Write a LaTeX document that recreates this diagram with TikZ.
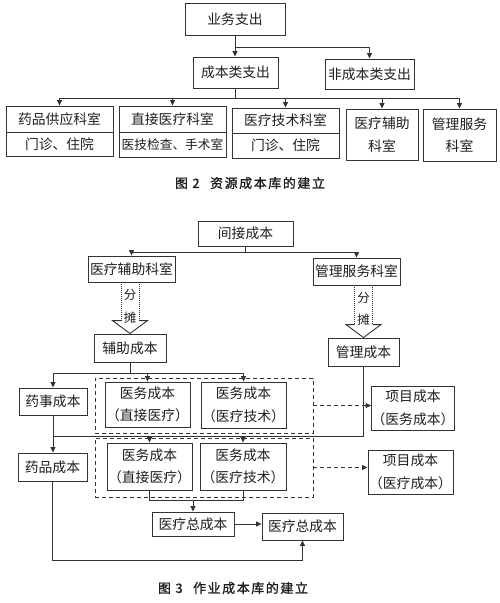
\documentclass[tikz,border=0pt]{standalone}
\usepackage{fontspec}
\setmainfont{Noto Sans CJK SC}
\newfontfamily\capfont[FakeBold=1.2,LetterSpace=12]{Noto Sans CJK SC}
\usetikzlibrary{arrows.meta,calc}
\definecolor{lc}{gray}{0.2}
\definecolor{tc}{gray}{0.12}
\begin{document}
\begin{tikzpicture}[x=1pt,y=-1pt,
  box/.style={draw=lc,line width=0.9pt,inner sep=0pt,align=center,text=tc,font=\fontsize{13.8}{22.5}\selectfont},
  ln/.style={draw=lc,line width=0.9pt},
  arr/.style={draw=lc,line width=0.9pt,-{Triangle[length=5.5pt,width=5pt]}},
  dbox/.style={draw=lc,line width=0.9pt,dash pattern=on 4pt off 3pt,inner sep=0pt},
  darr/.style={draw=lc,line width=0.9pt,dash pattern=on 4pt off 3pt,-{Triangle[length=5.5pt,width=5pt]}},
  shaft/.style={draw=lc,line width=1pt,densely dotted},
  small/.style={text=tc,font=\fontsize{12.5}{14}\selectfont,inner sep=0pt},
  captxt/.style={text=tc,font=\capfont\fontsize{13}{16}\selectfont}]
\fill[white] (0,0) rectangle (500,603);
\useasboundingbox (0,0) rectangle (500,603);

% ---------- Figure 2 ----------
\node[box,minimum width=100pt,minimum height=32pt] (ywzc) at (235,19) {业务支出};
\node[box,minimum width=85pt,minimum height=31pt] (cblzc) at (235.5,72.5) {成本类支出};
\node[box,minimum width=89pt,minimum height=30pt] (fcbl) at (369.5,74) {非成本类支出};

\node[box,minimum width=107pt,minimum height=26pt] (d1t) at (59.5,119) {药品供应科室};
\node[box,minimum width=107pt,minimum height=24pt] (d1b) at (59.5,144) {门诊、住院};
\node[box,minimum width=107pt,minimum height=26pt] (d2t) at (172.5,119) {直接医疗科室};
\node[box,minimum width=107pt,minimum height=25pt,font=\fontsize{12.7}{15}\selectfont] (d2b) at (172.5,144.5) {医技检查、手术室};
\node[box,minimum width=107pt,minimum height=25pt] (d3t) at (285.5,120.5) {医疗技术科室};
\node[box,minimum width=107pt,minimum height=25pt] (d3b) at (285.5,145.5) {门诊、住院};
\node[box,minimum width=72pt,minimum height=51pt] (d4) at (382,134.5) {医疗辅助\\科室};
\node[box,minimum width=73pt,minimum height=52pt] (d5) at (459.5,135) {管理服务\\科室};

\coordinate (h1) at (0,47);
\coordinate (h2) at (0,98);
\draw[arr] (ywzc.south) -- (ywzc.south |- cblzc.north);
\draw[arr] (ywzc.south |- h1) -| (fcbl.north);
\draw[ln] (cblzc.south) -- (cblzc.south |- h2);
\draw[ln] (d1t.north |- h2) -- (d5.north |- h2);
\foreach \n in {d1t,d2t,d3t,d4,d5} \draw[arr] (\n.north |- h2) -- (\n.north);

\node[captxt] (cap2) at (250,183) {图 2\hspace{0.8em}资源成本库的建立};

% ---------- Figure 3 ----------
\node[box,minimum width=95pt,minimum height=25pt] (jjcb) at (245.5,233.5) {间接成本};
\node[box,minimum width=87pt,minimum height=26pt] (ylfz) at (131.5,269) {医疗辅助科室};
\node[box,minimum width=87pt,minimum height=27pt] (glfw) at (356.5,271.5) {管理服务科室};
\node[box,minimum width=72pt,minimum height=28pt] (fzcb) at (130,348) {辅助成本};
\node[box,minimum width=71pt,minimum height=28pt] (glcb) at (363.5,352) {管理成本};

\node[dbox,minimum width=218pt,minimum height=55pt] (db1) at (204,405.5) {};
\node[dbox,minimum width=218pt,minimum height=59pt] (db2) at (204,467.5) {};

\node[box,minimum width=68pt,minimum height=27pt] (yscb) at (53,401.5) {药事成本};
\node[box,minimum width=85pt,minimum height=45pt] (yw1) at (147.5,404.5) {医务成本\\（直接医疗）};
\node[box,minimum width=85pt,minimum height=46pt] (yw2) at (243.5,405) {医务成本\\（医疗技术）};
\node[box,minimum width=82pt,minimum height=44pt] (xm1) at (413,408) {项目成本\\（医务成本）};
\node[box,minimum width=69pt,minimum height=28pt] (ypcb) at (52.5,467) {药品成本};
\node[box,minimum width=85pt,minimum height=47pt] (yw3) at (149.5,466.5) {医务成本\\（直接医疗）};
\node[box,minimum width=86pt,minimum height=47pt] (yw4) at (243,466.5) {医务成本\\（医疗技术）};
\node[box,minimum width=85pt,minimum height=44pt] (xm2) at (410.5,472) {项目成本\\（医疗成本）};
\node[box,minimum width=82pt,minimum height=24pt] (zc1) at (193,524) {医疗总成本};
\node[box,minimum width=81pt,minimum height=27pt] (zc2) at (302.5,526.5) {医疗总成本};

% top split
\coordinate (k1) at (0,252);
\draw[ln] (jjcb.south) -- (jjcb.south |- k1);
\draw[ln] (ylfz.north |- k1) -- (glfw.north |- k1);
\draw[arr] (ylfz.north |- k1) -- (ylfz.north);
\draw[arr] (glfw.north |- k1) -- (glfw.north);

% hollow allocation arrows
\coordinate (t1) at (fzcb.north |- ylfz.south);
\draw[shaft] ($(t1)+(-9,0)$) -- ($(fzcb.north)+(-9,-13)$);
\draw[shaft] ($(t1)+(9,0)$) -- ($(fzcb.north)+(9,-13)$);
\draw[ln,line join=miter] ($(fzcb.north)+(-9,-13)$) -- ($(fzcb.north)+(-17.5,-13)$) -- (fzcb.north) -- ($(fzcb.north)+(17.5,-13)$) -- ($(fzcb.north)+(9,-13)$);
\node[small] (fen1) at ($(t1)+(0,12)$) {分};
\node[small] (tan1) at ($(t1)+(0,35)$) {摊};

\coordinate (t2) at (glcb.north |- glfw.south);
\draw[shaft] ($(t2)+(-9,0)$) -- ($(glcb.north)+(-9,-13)$);
\draw[shaft] ($(t2)+(9,0)$) -- ($(glcb.north)+(9,-13)$);
\draw[ln,line join=miter] ($(glcb.north)+(-9,-13)$) -- ($(glcb.north)+(-17.5,-13)$) -- (glcb.north) -- ($(glcb.north)+(17.5,-13)$) -- ($(glcb.north)+(9,-13)$);
\node[small] (fen2) at ($(t2)+(0,12)$) {分};
\node[small] (tan2) at ($(t2)+(0,34)$) {摊};

% from 辅助成本
\coordinate (k2) at (0,373);
\draw[ln] (fzcb.south) -- (fzcb.south |- k2);
\draw[ln] (yscb.north |- k2) -- (yw2.north |- k2);
\draw[arr] (yscb.north |- k2) -- (yscb.north);
\draw[arr] (yw1.north |- k2) -- (yw1.north);
\draw[arr] (yw2.north |- k2) -- (yw2.north);

% from 管理成本
\coordinate (k3) at (0,436);
\draw[ln] (glcb.south) -- (glcb.south |- k3) -- (yscb.south |- k3);
\draw[arr] (yw3.north |- k3) -- (yw3.north);
\draw[arr] (yw4.north |- k3) -- (yw4.north);
\draw[arr] (yscb.south) -- (yscb.south |- ypcb.north);

% dashed to project costs
\draw[darr] (db1.east) -- (db1.east -| xm1.west);
\draw[darr] (db2.east) -- (db2.east -| xm2.west);

% to total costs
\coordinate (k4) at (0,500);
\draw[ln] (yw3.south) -- (yw3.south |- k4) -- (yw4.south |- k4) -- (yw4.south);
\draw[arr] (zc1.north |- k4) -- (zc1.north);
\draw[arr] (zc1.east) -- (zc1.east -| zc2.west);
\coordinate (k5) at (0,560);
\draw[arr] (ypcb.south) -- (ypcb.south |- k5) -| (zc2.south);

\node[captxt] (cap3) at (233,588) {图 3\hspace{0.8em}作业成本库的建立};
\end{tikzpicture}
\end{document}
